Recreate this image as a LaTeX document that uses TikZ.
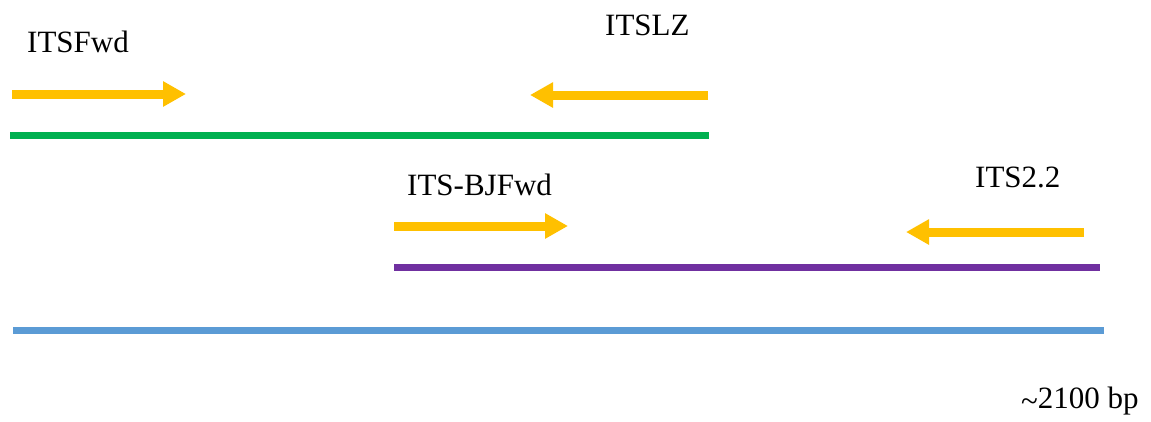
\documentclass[tikz,border=0pt]{standalone}
\usepackage{fontspec}
\setmainfont{Liberation Serif}
\usetikzlibrary{arrows.meta}
\definecolor{primer}{HTML}{FFC000}
\definecolor{seggreen}{HTML}{00B050}
\definecolor{segpurple}{HTML}{7030A0}
\definecolor{segblue}{HTML}{5B9BD5}
\tikzset{
  lbl/.style={anchor=base west, inner sep=0pt, font=\fontsize{31}{36}\selectfont},
  primerarrow/.style={draw=primer, line width=9pt, -{Triangle[length=23pt,width=24pt]}},
  segline/.style={line width=7pt}
}
\begin{document}
\begin{tikzpicture}[x=1pt,y=-1pt]
\useasboundingbox (0,0) rectangle (1151,421);
% labels
\node[lbl] (lfwd) at (27,52) {ITSFwd};
\node[lbl] (llz) at (605,35) {ITSLZ};
\node[lbl] (lbj) at (407,195) {ITS-BJFwd};
\node[lbl] (l22) at (975,187) {ITS2.2};
\node[lbl] (lbp) at (1021,408) {\raisebox{-0.12em}{\textasciitilde}2100 bp};
% coordinates
\coordinate (fwdA) at (12,94);
\coordinate (fwdB) at (186,94);
\coordinate (lzA) at (708,95);
\coordinate (lzB) at (530,95);
\coordinate (bjA) at (394,226);
\coordinate (bjB) at (568,226);
\coordinate (s22A) at (1084,232);
\coordinate (s22B) at (906,232);
\coordinate (gA) at (10,135);
\coordinate (gB) at (709,135);
\coordinate (pA) at (394,267);
\coordinate (pB) at (1100,267);
\coordinate (bA) at (13,330);
\coordinate (bB) at (1104,330);
% primers
\draw[primerarrow] (fwdA) -- (fwdB);
\draw[primerarrow] (lzA) -- (lzB);
\draw[primerarrow] (bjA) -- (bjB);
\draw[primerarrow] (s22A) -- (s22B);
% segments
\draw[segline, seggreen] (gA) -- (gB);
\draw[segline, segpurple] (pA) -- (pB);
\draw[segline, segblue] (bA) -- (bB);
\end{tikzpicture}
\end{document}
